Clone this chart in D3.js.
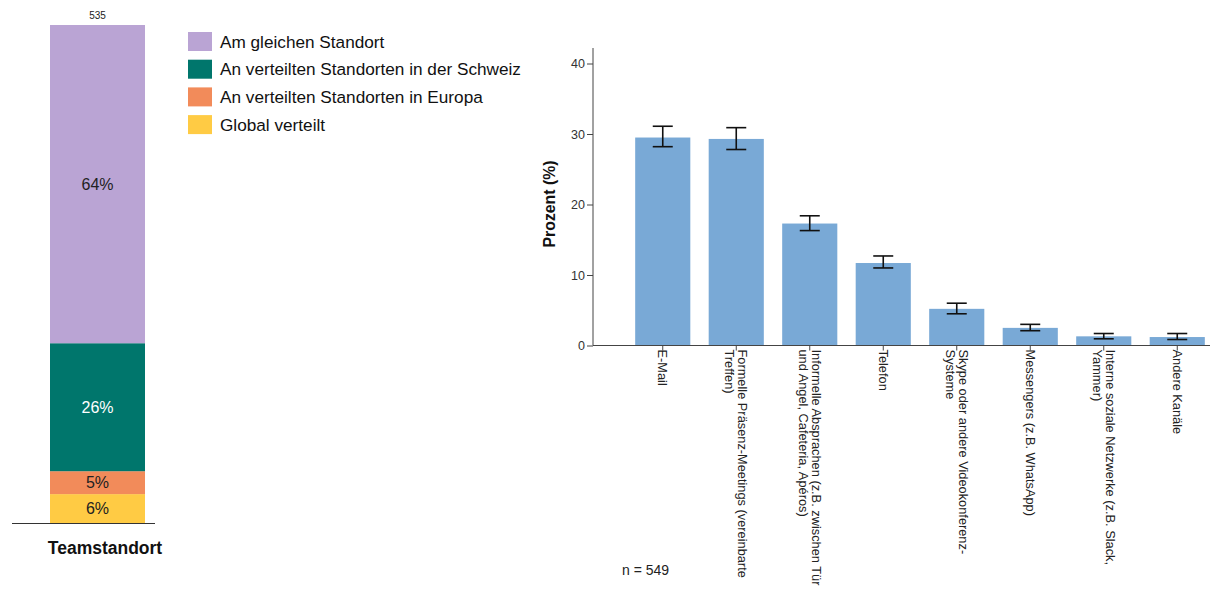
<!DOCTYPE html>
<html><head><meta charset="utf-8">
<script src="https://cdn.jsdelivr.net/npm/d3@7"></script>
<style>body{margin:0;background:#fff;font-family:"Liberation Sans",Arial,sans-serif;}</style>
</head><body><svg id="c" width="1210" height="590"></svg>
<script>
// Left chart data
const teamCategories = ["Global verteilt","An verteilten Standorten in Europa","An verteilten Standorten in der Schweiz","Am gleichen Standort"];
const teamValues = [5.8, 4.6, 25.7, 63.9];
const teamLabels = ["6%","5%","26%","64%"];
const teamColors = ["#FFCB44","#F28B5A","#00766C","#BAA4D4"];
const teamLabelColors = ["#222","#222","#fff","#222"];
const legendOrder = ["Am gleichen Standort","An verteilten Standorten in der Schweiz","An verteilten Standorten in Europa","Global verteilt"];
const teamN = "535";
const teamAxisLabel = "Teamstandort";

// Right chart data
const channels = ["E-Mail",
 "Formelle Präsenz-Meetings (vereinbarte|Treffen)",
 "Informelle Absprachen (z.B. zwischen Tür|und Angel, Cafeteria, Apéros)",
 "Telefon",
 "Skype oder andere Videokonferenz-|Systeme",
 "Messengers (z.B. WhatsApp)",
 "Interne soziale Netzwerke (z.B. Slack,|Yammer)",
 "Andere Kanäle"];
const percent = [29.5, 29.3, 17.3, 11.7, 5.2, 2.5, 1.3, 1.2];
const ciLow =  [28.2, 27.8, 16.3, 11.0, 4.5, 2.1, 0.95, 0.85];
const ciHigh = [31.1, 30.9, 18.4, 12.7, 6.0, 3.0, 1.7, 1.7];
const yTicks = [0,10,20,30,40];
const nLabel = "n = 549";

const svg = d3.select("#c");

// ---- Left stacked bar
const yL = d3.scaleLinear().domain([0,100]).range([523,25]);
let cum = 0;
const segs = teamValues.map((v,i)=>{const s={v,i,y0:cum,y1:cum+v};cum+=v;return s;});
const gL = svg.append("g");
gL.selectAll("rect").data(segs).join("rect")
  .attr("x",50).attr("width",95)
  .attr("y",d=>yL(d.y1)).attr("height",d=>yL(d.y0)-yL(d.y1))
  .attr("fill",d=>teamColors[d.i]);
gL.selectAll("text.seg").data(segs).join("text").attr("class","seg")
  .attr("x",97.5).attr("y",d=>(yL(d.y0)+yL(d.y1))/2).attr("dy","0.36em")
  .attr("text-anchor","middle").attr("font-size",16).attr("fill",d=>teamLabelColors[d.i])
  .text(d=>teamLabels[d.i]);
gL.append("line").attr("x1",12).attr("x2",155).attr("y1",523.5).attr("y2",523.5).attr("stroke","#333").attr("stroke-width",1);
gL.append("text").attr("x",97.5).attr("y",19).attr("text-anchor","middle").attr("font-size",10).attr("fill","#222").text(teamN);
gL.append("text").attr("x",105).attr("y",554).attr("text-anchor","middle").attr("font-size",17.5).attr("font-weight","bold").attr("fill","#111").text(teamAxisLabel);

// legend
const lg = svg.append("g");
legendOrder.forEach((name,j)=>{
  const i = teamCategories.indexOf(name);
  const y = 32 + j*27.7;
  lg.append("rect").attr("x",188).attr("y",y).attr("width",24).attr("height",19).attr("fill",teamColors[i]);
  lg.append("text").attr("x",220).attr("y",y+9.5).attr("dy","0.36em").attr("font-size",17.2).attr("fill","#111").text(name);
});

// ---- Right bar chart
const y = d3.scaleLinear().domain([0,40]).range([345.5,63.5]);
const x = d3.scaleBand().domain(channels).range([626,1214]).paddingInner(0.25).paddingOuter(0.125);
const g = svg.append("g");

g.selectAll("rect").data(channels).join("rect")
  .attr("x",d=>x(d)).attr("width",x.bandwidth())
  .attr("y",(d,i)=>y(percent[i])).attr("height",(d,i)=>y(0)-y(percent[i]))
  .attr("fill","#79A9D6");

// error bars
const eb = g.append("g").attr("stroke","#111").attr("stroke-width",1.6);
channels.forEach((c,i)=>{
  const cx = x(c)+x.bandwidth()/2;
  eb.append("line").attr("x1",cx).attr("x2",cx).attr("y1",y(ciLow[i])).attr("y2",y(ciHigh[i]));
  eb.append("line").attr("x1",cx-10).attr("x2",cx+10).attr("y1",y(ciLow[i])).attr("y2",y(ciLow[i]));
  eb.append("line").attr("x1",cx-10).attr("x2",cx+10).attr("y1",y(ciHigh[i])).attr("y2",y(ciHigh[i]));
});

// y axis
const ya = g.append("g").attr("transform","translate(593,0)")
  .call(d3.axisLeft(y).tickValues(yTicks).tickSize(6).tickPadding(2));
ya.select(".domain").attr("d","M0,48V345.5").attr("stroke","#444");
ya.selectAll(".tick line").attr("stroke","#444");
ya.selectAll("text").attr("font-size",12.5).attr("fill","#333").attr("font-family","Liberation Sans, Arial, sans-serif");

// x axis
const xa = g.append("g").attr("transform","translate(0,345.5)")
  .call(d3.axisBottom(x).tickSize(5).tickFormat(""));
xa.select(".domain").attr("d","M593,0H1210").attr("stroke","#444");
xa.selectAll(".tick line").attr("stroke","#444");
xa.selectAll(".tick").each(function(d){
  const lines = d.split("|");
  const t = d3.select(this).append("text")
    .attr("transform","translate(0,4) rotate(90)")
    .attr("text-anchor","start").attr("font-size",12.8).attr("fill","#222")
    .attr("font-family","Liberation Sans, Arial, sans-serif");
  const lh = 13;
  lines.forEach((ln,k)=>{
    t.append("tspan").attr("x",0).attr("y",(k-(lines.length-1)/2)*lh).attr("dy","0.35em").text(ln);
  });
});

// y axis title
svg.append("text").attr("transform","translate(555,204) rotate(-90)")
  .attr("text-anchor","middle").attr("font-size",15.8).attr("font-weight","bold").attr("fill","#111")
  .text("Prozent (%)");

svg.append("text").attr("x",622).attr("y",575).attr("font-size",14).attr("fill","#222").text(nLabel);
</script></body></html>
